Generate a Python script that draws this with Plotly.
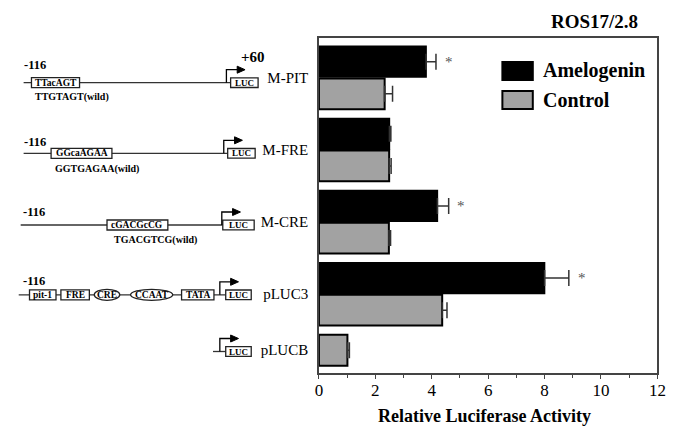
import plotly.graph_objects as go

# ---------------- data ----------------
constructs = ["M-PIT", "M-FRE", "M-CRE", "pLUC3", "pLUCB"]
amelogenin = [3.8, 2.5, 4.2, 8.0, None]
amelogenin_err = [0.35, 0.05, 0.4, 0.86, None]
control = [2.33, 2.49, 2.48, 4.37, 1.01]
control_err = [0.28, 0.07, 0.06, 0.17, 0.07]
significant = [True, False, True, True, False]
x_ticks = [0, 2, 4, 6, 8, 10, 12]

W, H = 687, 427
FONT = "Liberation Serif, Times New Roman, serif"


def X(px):
    return px / W


def Y(py):
    return 1 - py / H


# ---------- bar positions (stacked slots, group gap) ----------
GAP = 0.25
a_pos, c_pos, centers = [], [], []
cursor = 0.0
for a, c in zip(amelogenin, control):
    slots = []
    if a is not None:
        a_pos.append(cursor); slots.append(cursor); cursor += 1
    else:
        a_pos.append(None)
    if c is not None:
        c_pos.append(cursor); slots.append(cursor); cursor += 1
    else:
        c_pos.append(None)
    centers.append(sum(slots) / len(slots))
    cursor += GAP

fig = go.Figure()

ai = [i for i, v in enumerate(amelogenin) if v is not None]
fig.add_trace(go.Bar(
    orientation="h", name="Amelogenin",
    x=[amelogenin[i] for i in ai], y=[a_pos[i] for i in ai],
    width=0.96, marker=dict(color="black", line=dict(color="black", width=1.5)),
    error_x=dict(type="data", symmetric=False,
                 array=[amelogenin_err[i] for i in ai],
                 arrayminus=[0] * len(ai), color="#333333", thickness=1.5, width=8),
    showlegend=False, hoverinfo="skip",
))
fig.add_trace(go.Bar(
    orientation="h", name="Control",
    x=control, y=c_pos,
    width=0.96, marker=dict(color="#a2a2a2", line=dict(color="black", width=2)),
    error_x=dict(type="data", symmetric=False, array=control_err,
                 arrayminus=[0] * len(control), color="#333333", thickness=1.5, width=8),
    showlegend=False, hoverinfo="skip",
))

annotations = []
shapes = []

# significance asterisks
for i, s in enumerate(significant):
    if s and amelogenin[i] is not None:
        annotations.append(dict(x=amelogenin[i] + amelogenin_err[i] + 0.45, y=a_pos[i],
                                xref="x", yref="y", text="*", showarrow=False,
                                font=dict(family=FONT, size=15, color="#555555"),
                                xanchor="center", yanchor="middle"))

# title
annotations.append(dict(x=X(602), y=Y(21), xref="paper", yref="paper", text="<b>ROS17/2.8</b>",
                        showarrow=False, font=dict(family=FONT, size=19, color="black"),
                        xanchor="center", yanchor="middle"))
# x axis title
annotations.append(dict(x=X(490), y=Y(416), xref="paper", yref="paper",
                        text="<b>Relative Luciferase Activity</b>", showarrow=False,
                        font=dict(family=FONT, size=18, color="black"),
                        xanchor="center", yanchor="middle"))

# manual legend
leg = [("Amelogenin", "black", 71), ("Control", "#a2a2a2", 100)]
for name, col, cy in leg:
    shapes.append(dict(type="rect", xref="paper", yref="paper",
                       x0=X(508), x1=X(539), y0=Y(cy - 9), y1=Y(cy + 9),
                       fillcolor=col, line=dict(color="black", width=2)))
    annotations.append(dict(x=X(547), y=Y(cy), xref="paper", yref="paper",
                            text="<b>" + name + "</b>", showarrow=False,
                            font=dict(family=FONT, size=20, color="black"),
                            xanchor="left", yanchor="middle"))

# ---------- promoter diagrams (decoration, pixel layout) ----------
rows = [
    dict(base=82.7, x0=20, luc=(231, 259), arrow=226.7, m116=(18, 65),
         elems=[("TTacAGT", 28, 77, "rect")], wild=("TTGTAGT(wild)", 30, 97)),
    dict(base=153.3, x0=20, luc=(228, 256), arrow=224, m116=(18, 141.7),
         elems=[("GGcaAGAA", 48, 110, "rect")], wild=("GGTGAGAA(wild)", 50, 169.3)),
    dict(base=225, x0=17, luc=(223, 255), arrow=222, m116=(17, 211.7),
         elems=[("cGACGcCG", 105, 167, "rect")], wild=("TGACGTCG(wild)", 110, 240)),
    dict(base=294.8, x0=15, luc=(226, 252), arrow=220, m116=(17, 280.7),
         elems=[("pit-1", 26, 53, "rect"), ("FRE", 58, 87, "rect"),
                ("CRE", 92, 118, "ellipse"), ("CCAAT", 129, 172, "ellipse"),
                ("TATA", 181, 214, "rect")], wild=None),
    dict(base=351.5, x0=213, luc=(226, 252), arrow=220, m116=None, elems=[], wild=None),
]

LINE = dict(color="#333333", width=1.3)
BOX = dict(color="#222222", width=1.3)
small = dict(family=FONT, size=9.5, color="black")

for r in rows:
    b = r["base"]
    shapes.append(dict(type="line", xref="paper", yref="paper",
                       x0=X(r["x0"]), x1=X(r["luc"][0]), y0=Y(b), y1=Y(b), line=LINE))
    for txt, e0, e1, kind in r["elems"]:
        hh = 5.5 if kind == "ellipse" else 5
        shapes.append(dict(type="circle" if kind == "ellipse" else "rect",
                           xref="paper", yref="paper", x0=X(e0), x1=X(e1),
                           y0=Y(b - hh), y1=Y(b + hh), fillcolor="white", line=BOX))
        annotations.append(dict(x=X((e0 + e1) / 2), y=Y(b), xref="paper", yref="paper",
                                text="<b>" + txt + "</b>", showarrow=False, font=small,
                                xanchor="center", yanchor="middle"))
    # LUC box
    l0, l1 = r["luc"]
    shapes.append(dict(type="rect", xref="paper", yref="paper", x0=X(l0), x1=X(l1),
                       y0=Y(b - 4.8), y1=Y(b + 4.8), fillcolor="white", line=BOX))
    annotations.append(dict(x=X((l0 + l1) / 2), y=Y(b), xref="paper", yref="paper",
                            text="<b>LUC</b>", showarrow=False,
                            font=dict(family=FONT, size=9, color="black"),
                            xanchor="center", yanchor="middle"))
    # transcription start arrow
    ax = r["arrow"]
    top = b - 13
    tip = ax + 19
    shapes.append(dict(type="path", xref="paper", yref="paper",
                       path=f"M {X(ax)} {Y(b)} L {X(ax)} {Y(top)} L {X(tip - 7)} {Y(top)}",
                       line=dict(color="black", width=1.3)))
    shapes.append(dict(type="path", xref="paper", yref="paper",
                       path=f"M {X(tip - 8)} {Y(top - 3.5)} L {X(tip)} {Y(top)} L {X(tip - 8)} {Y(top + 3.5)} Z",
                       fillcolor="black", line=dict(color="black", width=1)))
    if r["m116"]:
        annotations.append(dict(x=X(r["m116"][0]), y=Y(r["m116"][1]), xref="paper", yref="paper",
                                text="<b>-116</b>", showarrow=False,
                                font=dict(family=FONT, size=12.5, color="black"),
                                xanchor="left", yanchor="middle"))
    if r["wild"]:
        t, wx, wy = r["wild"]
        annotations.append(dict(x=X(wx), y=Y(wy), xref="paper", yref="paper",
                                text="<b>" + t + "</b>", showarrow=False,
                                font=dict(family=FONT, size=10, color="black"),
                                xanchor="left", yanchor="middle"))

annotations.append(dict(x=X(240), y=Y(56.7), xref="paper", yref="paper", text="<b>+60</b>",
                        showarrow=False, font=dict(family=FONT, size=15, color="black"),
                        xanchor="left", yanchor="middle"))

fig.update_layout(
    width=W, height=H,
    margin=dict(l=0, r=0, t=0, b=0, pad=0),
    paper_bgcolor="white", plot_bgcolor="white",
    barmode="overlay",
    shapes=shapes, annotations=annotations,
    xaxis=dict(domain=[X(321), X(666)], range=[0, 12], tickvals=x_ticks,
               ticktext=[str(v) for v in x_ticks],
               ticks="outside", ticklen=4, tickcolor="#444", tickwidth=1.2,
               minor=dict(dtick=1, tick0=0, ticks="outside", ticklen=3, tickcolor="#444"),
               showline=True, linecolor="#444444", linewidth=1.5, mirror=True,
               showgrid=False, zeroline=False, ticklabelstandoff=-3, fixedrange=True,
               tickfont=dict(family=FONT, size=17, color="black")),
    yaxis=dict(domain=[Y(373), Y(38)], range=[9.71, -0.74],
               tickvals=centers, ticktext=constructs, ticks="",
               showline=True, linecolor="#444444", linewidth=1.5, mirror=True,
               showgrid=False, zeroline=False, ticklabelstandoff=6, fixedrange=True,
               tickfont=dict(family=FONT, size=15, color="black")),
)

fig.write_html("out.html", config={"displayModeBar": False},
               post_script="document.body.style.margin='0';document.body.style.padding='0';")
